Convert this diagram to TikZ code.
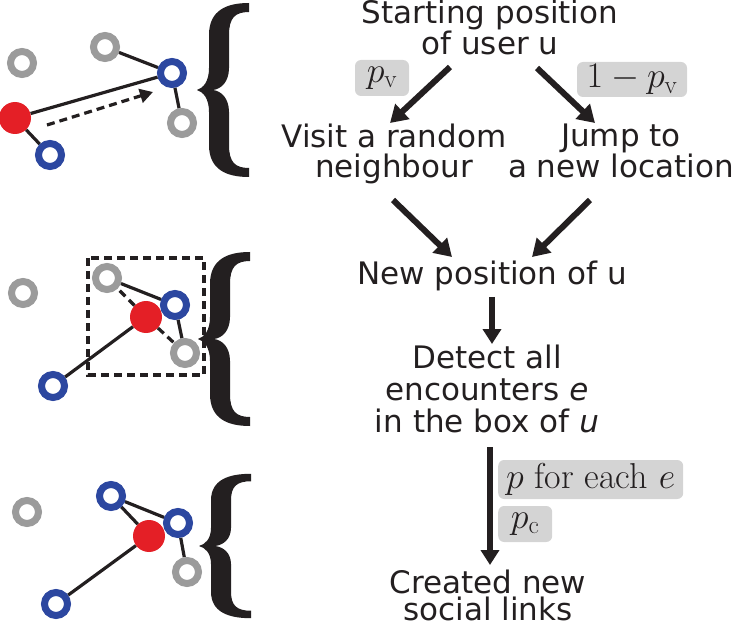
\RequirePackage{fix-cm}
\documentclass[tikz,border=0pt]{standalone}
\usepackage{fontspec}
\newfontfamily\dv{DejaVu Sans}
\usetikzlibrary{arrows.meta,calc,backgrounds}
\definecolor{ink}{HTML}{231F20}
\definecolor{ringgray}{HTML}{9B9B9B}
\definecolor{ringblue}{HTML}{2C47A0}
\definecolor{dotred}{HTML}{E41F26}
\definecolor{labelgray}{HTML}{D4D4D4}
\tikzset{
  flowtext/.style={font=\dv\fontsize{31}{#1}\selectfont, text=ink, align=center, inner sep=0pt, anchor=base},
  flowtext/.default=30,
  lbl/.style={font=\fontsize{36}{38}\selectfont, text=ink, fill=labelgray, rounded corners=6pt, inner sep=0pt},
  bigarrow/.style={draw=ink, line width=6pt, -{Triangle[length=17pt,width=20pt]}},
  vertarrow/.style={draw=ink, line width=6.5pt, -{Triangle[length=15pt,width=18pt]}},
  ringg/.style={circle, draw=ringgray, fill=white, line width=7pt, minimum size=23pt, inner sep=0pt},
  ringb/.style={circle, draw=ringblue, fill=white, line width=7pt, minimum size=23pt, inner sep=0pt},
  reddot/.style={circle, fill=dotred, minimum size=32pt, inner sep=0pt},
  edge/.style={draw=ink, line width=3.2pt},
  dashedge/.style={draw=ink, line width=3.2pt, dash pattern=on 8pt off 5pt},
  cbrace/.pic={
    \fill[ink] (52,-87) .. controls (30,-87) and (12,-80) .. (12,-55) -- (12,-22)
      .. controls (12,-8) and (6,-2) .. (0,0) .. controls (6,2) and (12,8) .. (12,22)
      -- (12,55) .. controls (12,80) and (30,87) .. (52,87) -- (52,78)
      .. controls (38,78) and (32,72) .. (32,55) -- (32,22)
      .. controls (32,8) and (24,1) .. (16,0) .. controls (24,-1) and (32,-8) .. (32,-22)
      -- (32,-55) .. controls (32,-72) and (38,-78) .. (52,-78) -- cycle;
  }
}
\begin{document}
\begin{tikzpicture}[x=1pt,y=-1pt]
\useasboundingbox (0,0) rectangle (732,623);

% ---------- flow text (anchor = baseline of last line) ----------
\node[flowtext=29] (start) at (490,55) {Starting position\\of user u};
\node[flowtext=30] (visit) at (394,178) {Visit a random\\neighbour};
\node[flowtext=30] (jump) at (621,178) {Jump to\\a new location};
\node[flowtext] (newpos) at (492,285) {New position of u};
\node[flowtext=32] (detect) at (487,432) {Detect all\\encounters \textit{e}\\in the box of \textit{u}};
\node[flowtext=27] (created) at (488,620) {Created new\\social links};

% ---------- labels ----------
\node[lbl, minimum width=54pt, minimum height=36pt] (pv) at (382,78) {$p_{\mathrm{v}}$};
\node[lbl, minimum width=110pt, minimum height=35pt] (om) at (632,79.5) {$1-p_{\mathrm{v}}$};
\node[lbl, minimum width=185pt, minimum height=39pt, anchor=west] (pe) at (498,479.5) {$p$ for each $e$};
\node[lbl, minimum width=54pt, minimum height=36pt, anchor=west] (pc) at (498,524) {$p_{\mathrm{c}}$};

% ---------- flow arrows ----------
\draw[bigarrow] ($(start.base)+(-40,12)$) -- ($(visit.base)+(-4,-55)$);
\draw[bigarrow] ($(start.base)+(47,13)$) -- ($(jump.base)+(-26,-55)$);
\draw[bigarrow] ($(visit.base)+(-1,22)$) -- ($(newpos.base)+(-40,-28)$);
\draw[bigarrow] ($(jump.base)+(-31,22)$) -- ($(newpos.base)+(40,-28)$);
\draw[vertarrow] ($(newpos.base)+(0,12)$) -- ($(detect.base)+(5,-88)$);
\draw[vertarrow] ($(detect.base)+(3,15)$) -- ($(created.base)+(2,-55)$);

% ---------- braces ----------
\pic at (197,90) {cbrace};
\pic at (198,339) {cbrace};
\pic[yscale=0.83] at (199,546) {cbrace};

% ---------- panel 1 ----------
\node[reddot] (r1) at (15,118) {};
\node[ringg] (g1a) at (22,63) {};
\node[ringg] (g1b) at (105,47) {};
\node[ringb] (b1a) at (172,73) {};
\node[ringb] (b1b) at (50,155) {};
\node[ringg] (g1c) at (182,123) {};
\coordinate (m1s) at (47,125);
\coordinate (m1e) at (153,92);
\begin{pgfonlayer}{background}
\draw[edge] (r1) -- (b1a);
\draw[edge] (r1) -- (b1b);
\draw[edge] (g1b) -- (b1a);
\draw[edge] (b1a) -- (g1c);
\end{pgfonlayer}
\draw[dashedge, -{Triangle[length=13pt,width=14pt]}] (m1s) -- (m1e);

% ---------- panel 2 ----------
\draw[dashedge] (88,258) rectangle (204,375);
\node[reddot] (r2) at (146,317) {};
\node[ringg] (g2a) at (23,293) {};
\node[ringg] (g2b) at (107,278) {};
\node[ringb] (b2a) at (175,305) {};
\node[ringg] (g2c) at (185,353) {};
\node[ringb] (b2b) at (53,386) {};
\begin{pgfonlayer}{background}
\draw[edge] (g2b) -- (b2a);
\draw[edge] (b2a) -- (g2c);
\draw[edge] (r2) -- (b2b);
\draw[dashedge] (r2) -- (g2b);
\draw[dashedge] (r2) -- (g2c);
\end{pgfonlayer}

% ---------- panel 3 ----------
\node[reddot] (r3) at (149,536) {};
\node[ringg] (g3a) at (27,512) {};
\node[ringb] (b3a) at (111,496) {};
\node[ringb] (b3b) at (178,523) {};
\node[ringg] (g3c) at (187,572) {};
\node[ringb] (b3c) at (56,604) {};
\begin{pgfonlayer}{background}
\draw[edge] (b3a) -- (b3b);
\draw[edge] (b3a) -- (r3);
\draw[edge] (b3b) -- (g3c);
\draw[edge] (r3) -- (b3c);
\end{pgfonlayer}
\end{tikzpicture}
\end{document}
